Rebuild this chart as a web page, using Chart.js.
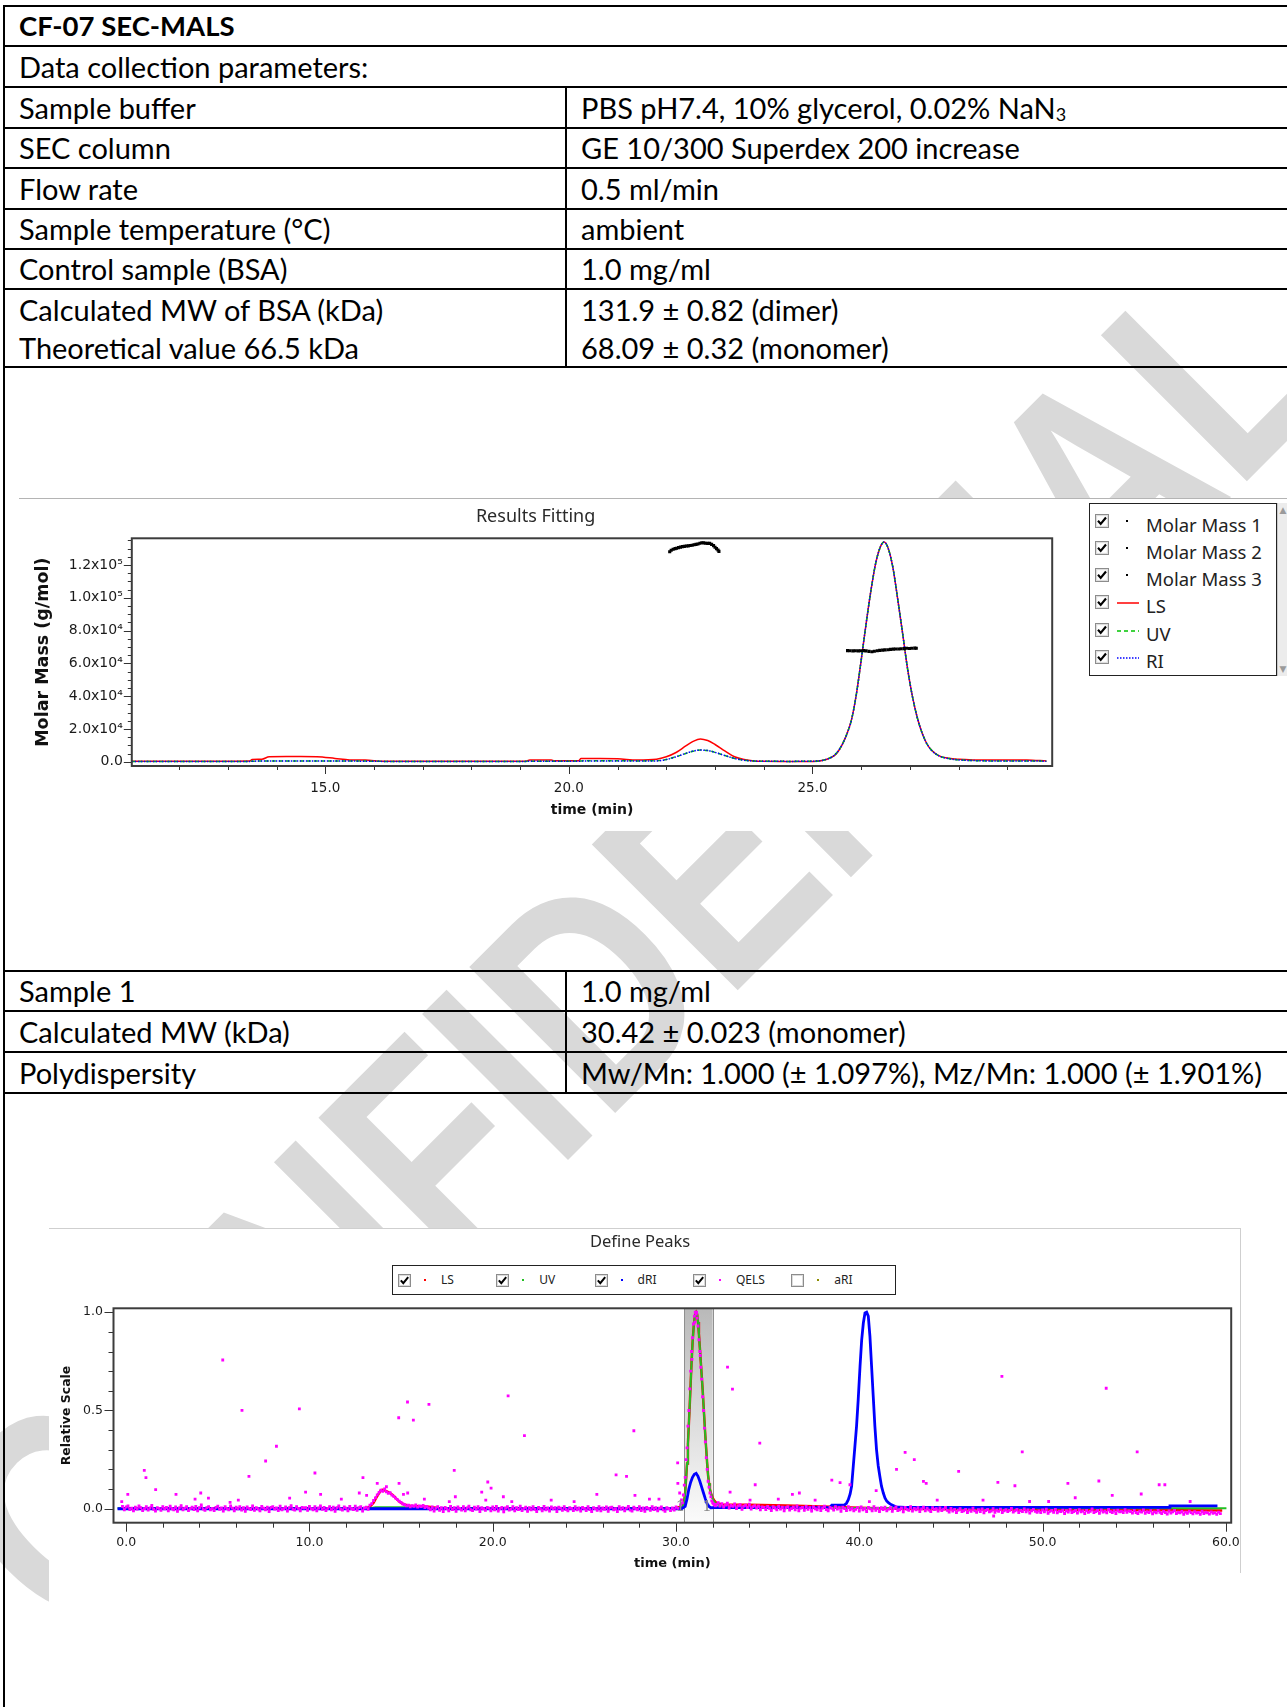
<!DOCTYPE html>
<html lang="en">
<head>
<meta charset="utf-8">
<title>CF-07 SEC-MALS</title>
<script src="https://cdn.jsdelivr.net/npm/chart.js@4.4.1/dist/chart.umd.min.js"></script>
<style>
  html, body { margin: 0; padding: 0; background: #fff; }
  #page { position: relative; width: 1287px; height: 1707px; overflow: hidden; background: #fff; }
  #watermark {
    position: absolute; left: 634px; top: 947px;
    transform: translate(-50%, -50%) rotate(-45deg) scaleX(0.8);
    font: bold 300px 'Liberation Sans', Arial, sans-serif;
    color: #d9d9d9; white-space: nowrap; line-height: 1; z-index: 0;
  }
  .rule { position: absolute; background: #000; z-index: 1; }
  .cell {
    position: absolute; height: 40px;
    font-family: Lato, 'Noto Sans', sans-serif; font-size: 29px; line-height: 40px; color: #000;
    white-space: nowrap; z-index: 1;
  }
  .cell.bold { font-weight: bold; font-size: 27.5px; }
  .cell sub { font-size: 0.62em; vertical-align: -0.1em; line-height: 0; }
  .chartbox { position: absolute; background: #fff; z-index: 2; }
  .chartbox canvas { display: block; }
  #fitBox { left: 19px; top: 498px; width: 1268px; height: 332px; border-top: 1px solid #b4b4b4; }
  #peakBox { left: 49px; top: 1228px; width: 1191px; height: 344px; border-top: 1px solid #cfcfcf; border-right: 1px solid #cfcfcf; }
  #peakMargin { left: 49px; top: 1573px; width: 1192px; height: 60px; }
  #fitLegend {
    position: absolute; left: 1089px; top: 503px; width: 186px; height: 171px;
    border: 1px solid #222; background: #fff; z-index: 3;
  }
  #fitScroll {
    position: absolute; left: 1277px; top: 503px; width: 10px; height: 173px;
    background: #ececec; border-left: 1px solid #c8c8c8; z-index: 3;
    font: 9px 'DejaVu Sans', sans-serif; color: #9a9a9a; text-align: center;
  }
  #fitScroll .up { position: absolute; top: 2px; left: 0; width: 10px; }
  #fitScroll .down { position: absolute; bottom: 2px; left: 0; width: 10px; }
  .lg1row { position: absolute; left: 0; width: 100%; height: 27px; }
  .lg1row .cb { position: absolute; left: 5px; top: 3px; width: 14px; height: 14px; }
  .lg1row .dot { position: absolute; left: 36px; top: 9px; width: 2px; height: 2px; }
  .lg1row .mark { position: absolute; left: 27px; top: 9px; }
  .lg1row .txt { position: absolute; left: 56px; top: 0; font: 18.5px 'Noto Sans', sans-serif; line-height: 27px; color: #222; white-space: nowrap; }
  #peakLegend {
    position: absolute; left: 392px; top: 1265px; width: 502px; height: 28px;
    border: 1px solid #222; background: #fff; z-index: 3;
  }
  .lg2item { position: absolute; top: 0; height: 28px; }
  .lg2item .cb { position: absolute; left: 0; top: 7px; width: 13px; height: 13px; }
  .lg2item .dot { position: absolute; left: 26px; top: 13px; width: 2px; height: 2px; }
  .lg2item .txt { position: absolute; left: 43px; top: 0; font: 12px 'Noto Sans', sans-serif; line-height: 28px; color: #222; white-space: nowrap; }
</style>
</head>
<body>
<div id="page">
  <div id="watermark">CONFIDENTIAL</div>
  <div id="table"></div>
  <div id="fitBox" class="chartbox"><canvas id="fitChart" width="1268" height="331"></canvas></div>
  <div id="fitLegend"></div>
  <div id="fitScroll"><div class="up">&#9650;</div><div class="down">&#9660;</div></div>
  <div id="peakBox" class="chartbox"><canvas id="peakChart" width="1191" height="344"></canvas></div>
  <div id="peakMargin" class="chartbox"></div>
  <div id="peakLegend"></div>
</div>
<script>
// ---------------- report table text ----------------
const reportTitle = 'CF-07 SEC-MALS';
const parameterHeading = 'Data collection parameters:';
const parameterNames = ['Sample buffer', 'SEC column', 'Flow rate', 'Sample temperature (°C)',
  'Control sample (BSA)', 'Calculated MW of BSA (kDa)', 'Theoretical value 66.5 kDa'];
const parameterValues = ['PBS pH7.4, 10% glycerol, 0.02% NaN<sub>3</sub>', 'GE 10/300 Superdex 200 increase',
  '0.5 ml/min', 'ambient', '1.0 mg/ml', '131.9 ± 0.82 (dimer)', '68.09 ± 0.32 (monomer)'];
const sampleNames = ['Sample 1', 'Calculated MW (kDa)', 'Polydispersity'];
const sampleValues = ['1.0 mg/ml', '30.42 ± 0.023 (monomer)',
  'Mw/Mn: 1.000 (± 1.097%), Mz/Mn: 1.000 (± 1.901%)'];

// ---------------- axis ticks ----------------
const fitTimeTicks = [15, 20, 25];
const massTicks = [0, 20000, 40000, 60000, 80000, 100000, 120000];
const peakTimeTicks = [0, 10, 20, 30, 40, 50, 60];
const relativeTicks = [0, 0.5, 1.0];

// ---------------- Results Fitting: detector traces (time in min) ----------------
const fitTime = [11.03, 11.5, 12.0, 12.5, 13.0, 13.45, 13.5, 13.7, 13.85, 14.2,
  14.5, 14.83, 15.2, 15.5, 15.82, 16.2, 17.0, 18.0, 19.1, 19.2,
  19.64, 19.7, 20.2, 20.25, 20.64, 21.0, 21.4, 21.8, 22.0, 22.2,
  22.4, 22.55, 22.7, 22.85, 23.0, 23.2, 23.4, 23.6, 23.8, 24.0,
  24.5, 25.0, 25.2, 25.4, 25.5, 25.6, 25.7, 25.8, 25.9, 26.0,
  26.1, 26.2, 26.3, 26.4, 26.47, 26.55, 26.65, 26.75, 26.85, 26.95,
  27.05, 27.15, 27.25, 27.35, 27.45, 27.6, 27.8, 28.0, 28.3, 28.6,
  29.0, 29.4, 29.8];
const fitLS = [300, 300, 300, 300, 300, 400, 1400, 1500, 3000, 3100,
  3100, 3000, 2000, 1100, 1000, 300, 300, 300, 300, 1000,
  1000, 600, 600, 1900, 1900, 1800, 1000, 1500, 3000, 5600,
  9600, 12400, 13900, 12900, 10500, 6600, 3000, 1300, 500, 300,
  200, 200, 700, 2800, 5200, 9800, 16500, 25500, 41000, 62000,
  84000, 104500, 121500, 131500, 134000, 130500, 118500, 99000, 78300, 57000,
  40000, 27000, 17500, 10800, 6800, 3600, 2100, 1500, 1100, 1000,
  1000, 1100, 400];
const fitUV = [200, 200, 200, 200, 200, 200, 300, 400, 500, 500,
  500, 500, 500, 500, 400, 200, 200, 200, 200, 300,
  300, 300, 400, 500, 600, 600, 500, 600, 1400, 3000,
  5000, 6400, 7100, 6800, 5700, 3800, 2000, 900, 400, 300,
  200, 300, 800, 3000, 5500, 10000, 16500, 25500, 41000, 62000,
  84000, 104500, 121500, 131500, 134000, 130500, 118500, 99000, 78300, 57000,
  40000, 27000, 17500, 10800, 6800, 3500, 1900, 1100, 700, 500,
  500, 500, 300];
const fitRI = [200, 200, 200, 200, 200, 200, 300, 400, 400, 400,
  400, 400, 400, 400, 300, 200, 200, 200, 200, 300,
  300, 300, 300, 400, 500, 500, 400, 500, 1300, 3000,
  5100, 6500, 7100, 6800, 5700, 3800, 2000, 900, 400, 300,
  200, 300, 800, 2900, 5400, 9900, 16400, 25400, 41000, 62000,
  84000, 104500, 121500, 131500, 134000, 130500, 118500, 99000, 78300, 57000,
  40000, 27000, 17500, 10800, 6800, 3500, 1900, 1100, 700, 500,
  500, 500, 300];

// molar mass slices (g/mol)
const mm1Time = [];
const mm1Mass = [];
const mm2Time = [22.07, 22.1, 22.14, 22.18, 22.21, 22.25, 22.29, 22.33, 22.37, 22.41,
  22.45, 22.49, 22.53, 22.57, 22.61, 22.65, 22.69, 22.73, 22.77, 22.81,
  22.85, 22.89, 22.93, 22.97, 23.0, 23.03, 23.06, 23.08];
const mm2Mass = [128100, 129000, 129600, 130000, 130200, 130600, 130900, 131200, 131400, 131600,
  131700, 131900, 132100, 132400, 132600, 132800, 133300, 133600, 133500, 133300,
  133200, 133200, 132600, 131800, 130800, 130000, 129200, 128300];
const mm3Time = [25.72, 25.77, 25.83, 25.88, 25.94, 25.99, 26.05, 26.1, 26.16, 26.22,
  26.27, 26.33, 26.38, 26.44, 26.49, 26.55, 26.6, 26.66, 26.71, 26.77,
  26.82, 26.88, 26.93, 26.99, 27.04, 27.1, 27.13];
const mm3Mass = [67800, 67700, 67600, 67700, 67600, 67700, 67800, 67600, 67300, 67100,
  67400, 67700, 67900, 68100, 68200, 68300, 68500, 68700, 68800, 68800,
  68900, 69000, 69200, 69100, 69200, 69300, 69200];

// ---------------- Define Peaks: relative scale traces ----------------
const lsTime = [-0.2, 13.0, 13.3, 13.5, 13.7, 13.9, 14.0, 14.2, 14.4, 14.6,
  14.8, 15.0, 15.2, 15.5, 16.0, 16.5, 17.0, 28.0, 30.0, 30.3,
  30.4, 30.45, 30.5, 30.55, 30.6, 30.65, 30.7, 30.75, 30.8, 30.85,
  30.9, 30.95, 31.0, 31.05, 31.1, 31.15, 31.2, 31.25, 31.3, 31.35,
  31.4, 31.45, 31.5, 31.55, 31.6, 31.65, 31.7, 31.75, 31.8, 31.85,
  31.9, 32.0, 32.1, 32.2, 32.5, 34.0, 36.0, 38.0, 40.0, 42.0,
  45.0, 50.0, 55.0, 59.8];
const lsValue = [0.0, 0.0, 0.01, 0.03, 0.065, 0.095, 0.097, 0.09, 0.08, 0.065,
  0.045, 0.03, 0.02, 0.015, 0.013, 0.01, 0.004, 0.002, 0.004, 0.012,
  0.025, 0.045, 0.085, 0.15, 0.23, 0.33, 0.43, 0.53, 0.64, 0.75,
  0.84, 0.91, 0.96, 0.99, 1.0, 0.99, 0.95, 0.89, 0.82, 0.75,
  0.68, 0.61, 0.53, 0.45, 0.37, 0.30, 0.23, 0.17, 0.13, 0.10,
  0.08, 0.055, 0.04, 0.03, 0.022, 0.02, 0.017, 0.012, 0.005, 0.0,
  -0.003, -0.005, -0.007, -0.009];

const uvTime = [-0.47, 13.3, 13.6, 15.3, 15.6, 30.0, 30.3, 30.4, 30.45, 30.5,
  30.55, 30.6, 30.65, 30.7, 30.75, 30.8, 30.85, 30.9, 30.95, 31.0,
  31.05, 31.1, 31.15, 31.2, 31.25, 31.3, 31.35, 31.4, 31.45, 31.5,
  31.55, 31.6, 31.65, 31.7, 31.75, 31.8, 31.85, 31.9, 32.0, 32.1,
  32.2, 32.5, 33.0, 38.5, 39.5, 45.0, 57.0, 60.03];
const uvValue = [0.003, 0.003, 0.008, 0.008, 0.003, 0.003, 0.008, 0.02, 0.04, 0.08,
  0.15, 0.23, 0.33, 0.43, 0.53, 0.64, 0.75, 0.84, 0.91, 0.96,
  0.99, 1.0, 0.99, 0.95, 0.89, 0.82, 0.75, 0.68, 0.61, 0.53,
  0.45, 0.37, 0.30, 0.23, 0.17, 0.13, 0.10, 0.08, 0.05, 0.035,
  0.025, 0.012, 0.005, 0.004, 0.004, 0.003, 0.003, 0.003];

const driTime = [-0.47, 30.3, 30.5, 30.6, 30.7, 30.8, 30.9, 31.0, 31.1, 31.2,
  31.3, 31.4, 31.5, 31.6, 31.7, 31.8, 31.9, 32.1, 38.4, 38.5,
  39.2, 39.3, 39.4, 39.5, 39.58, 39.67, 39.76, 39.85, 39.94, 40.04,
  40.13, 40.22, 40.31, 40.4, 40.49, 40.58, 40.67, 40.76, 40.85, 40.94,
  41.03, 41.12, 41.21, 41.31, 41.4, 41.49, 41.6, 41.76, 42.0, 42.5,
  56.9, 56.95, 59.54];
const driValue = [0.0, 0.0, 0.012, 0.05, 0.1, 0.135, 0.16, 0.175, 0.18, 0.165,
  0.14, 0.11, 0.08, 0.05, 0.025, 0.012, 0.005, 0.006, 0.007, 0.018,
  0.02, 0.028, 0.046, 0.075, 0.114, 0.216, 0.317, 0.42, 0.555, 0.725,
  0.86, 0.945, 0.996, 1.0, 0.98, 0.877, 0.725, 0.572, 0.42, 0.30,
  0.22, 0.165, 0.115, 0.08, 0.055, 0.04, 0.03, 0.02, 0.01, 0.007,
  0.007, 0.015, 0.015];

const ariTime = [];
const ariValue = [];

// QELS: regular readings every 0.1 min starting at -0.2 min (gap while the peak is defined)
const qelsStart = -0.2;
const qelsStep = 0.1;
const qelsBaseline = [
  .012,-.006,.009,.015,-.004,.003,-.011,.008,-.002,.014, .005,-.009,.001,.010,-.007,.004,.017,-.003,-.012,.006,
  .002,-.008,.011,-.001,.007,-.010,.013,.000,-.005,.009, -.013,.004,.016,-.006,.003,.010,-.009,.001,.008,-.004,
  .012,-.011,.005,.019,-.002,-.008,.006,.011,-.005,.002,
  -.009,.007,.013,-.003,.004,-.012,.010,.001,-.006,.015, .003,-.010,.008,-.001,.011,-.007,.005,-.013,.009,.002,
  -.004,.014,-.008,.006,.000,-.011,.012,.003,-.005,.008, -.014,.007,.010,-.002,.004,-.009,.013,-.006,.001,.009,
  -.012,.005,.016,-.003,-.007,.011,.002,-.010,.007,.004,
  .006,-.008,.012,.001,-.005,.010,-.011,.004,.014,-.003, .007,-.009,.002,.011,-.006,.008,-.013,.005,.015,-.002,
  -.007,.009,.003,-.010,.012,.000,-.004,.013,-.008,.006, .010,-.012,.004,.008,-.003,.018,.026,.042,.055,.071,
  .083,.094,.088,.101,.086,.079,.082,.069,.063,.054,
  .046,.038,.032,.024,.021,.015,.018,.010,.016,.012, .019,.008,.014,.011,.017,.006,.012,.004,-.006,.009,
  -.012,.003,.011,-.008,.005,-.015,.007,.001,-.010,.012, -.004,.006,-.013,.009,.002,-.007,.010,-.011,.004,.013,
  -.005,-.009,.008,-.002,.011,-.014,.005,.000,-.008,.007,
  .003,-.010,.009,-.005,.012,-.012,.001,.007,-.016,.004, .010,-.007,-.002,.011,-.011,.006,-.004,.013,-.009,.002,
  .008,-.013,.005,-.006,.010,-.003,-.014,.007,.001,-.010, .012,-.005,.004,-.012,.009,-.001,.006,-.015,.008,.003,
  -.008,.011,-.004,-.011,.006,.002,-.009,.010,-.006,.004,
  -.012,.007,.002,-.009,.010,-.004,-.014,.006,.001,-.008, .011,-.011,.004,-.003,.009,-.013,.005,.008,-.006,.000,
  -.015,.010,-.002,.006,-.010,.003,.012,-.007,-.012,.008, .001,-.005,.011,-.009,.004,-.013,.007,.002,-.008,.010,
  -.004,.006,-.011,.003,.009,-.006,-.013,.005,.001,-.009,
  .004,-.007,.009,.002,null,null,null,null,null,null, null,null,null,null,null,null,null,null,null,null,
  null,null,null,null,.022,.031,.014,.026,.009,.019, .028,.004,.017,.012,.024,.001,.015,.021,-.003,.013,
  .018,.006,.023,-.002,.011,.016,.003,.014,-.005,.009,
  .007,-.004,.012,.002,-.009,.010,.004,-.006,.013,-.002, .008,-.011,.005,.011,-.007,.001,.009,-.005,.014,-.010,
  .003,.007,-.008,.012,-.003,.006,-.012,.010,.000,-.006, .009,-.009,.004,.013,-.004,-.011,.007,.002,-.007,.011,
  -.002,.005,-.013,.008,.001,-.009,.010,-.005,.003,-.010,
  -.003,.006,-.012,.009,-.006,.002,-.014,.007,-.001,-.010, .010,-.008,.003,-.015,.005,-.004,.008,-.011,-.002,.006,
  -.013,.001,.009,-.009,-.005,.004,-.016,.007,-.003,-.008, .010,-.012,.002,-.006,.005,-.014,-.001,.008,-.010,.003,
  -.007,-.015,.006,-.004,.001,-.012,.004,-.009,-.002,.007,
  -.008,-.017,.002,-.012,-.004,-.020,-.007,.001,-.015,-.010, -.003,-.019,-.006,-.013,.003,-.011,-.018,-.005,-.014,-.001,
  -.021,-.009,-.004,-.016,-.012,.000,-.018,-.007,-.013,-.002, -.020,-.010,-.005,-.015,-.008,.002,-.017,-.011,-.004,-.019,
  -.009,-.014,-.001,-.016,-.006,-.022,-.010,-.003,-.013,-.018,
  -.011,-.020,-.006,-.016,-.002,-.023,-.013,-.008,-.018,-.004, -.021,-.012,-.015,-.007,-.024,-.010,-.017,-.003,-.019,-.014,
  -.009,-.022,-.005,-.016,-.011,-.025,-.008,-.018,-.013,-.001, -.020,-.015,-.009,-.023,-.006,-.017,-.012,-.021,-.004,-.014,
  -.019,-.010,-.024,-.007,-.016,-.013,-.020,-.005,-.018,-.011,
  -.014,-.022,-.009,-.019,-.025,-.012,-.017,-.006,-.023,-.015, -.020,-.010,-.026,-.016,-.021,-.008,-.018,-.024,-.013,-.019,
  -.027,-.011,-.022,-.016,-.009,-.025,-.018,-.021,-.014,-.028, -.017,-.023,-.012,-.020,-.026,-.015,-.022,-.019,-.029,-.013,
  -.024,-.018,-.021,-.027,-.016,-.023,-.020,-.028,-.017,-.025
];
const qelsPeakTime = [30.25, 30.3, 30.35, 30.4, 30.45, 30.5, 30.55, 30.6, 30.65, 30.7,
  30.75, 30.8, 30.85, 30.87, 30.9, 30.95, 31.0, 31.03, 31.05, 31.1,
  31.12, 31.15, 31.2, 31.25, 31.3, 31.32, 31.35, 31.4, 31.45, 31.5,
  31.55, 31.6, 31.65, 31.7, 31.75, 31.8, 31.85, 31.9, 31.95, 32.0,
  32.05, 32.1, 32.15];
const qelsPeakValue = [0.02, 0.045, 0.03, 0.07, 0.12, 0.16, 0.25, 0.31, 0.42, 0.5,
  0.61, 0.7, 0.8, 0.76, 0.87, 0.94, 0.98, 0.95, 1.0, 0.99,
  1.0, 0.97, 0.93, 0.86, 0.8, 0.78, 0.72, 0.66, 0.57, 0.5,
  0.41, 0.34, 0.26, 0.2, 0.14, 0.11, 0.08, 0.06, 0.04, 0.03,
  0.025, 0.02, 0.015];
const qelsSpikeTime = [-0.24, 0.09, 0.99, 1.08, 1.61, 2.72, 3.76, 4.07, 4.49, 5.27,
  5.67, 6.12, 6.32, 6.70, 7.61, 8.20, 8.92, 9.45, 9.79, 10.30,
  10.61, 11.74, 12.72, 12.92, 13.12, 13.70, 14.20, 14.87, 14.89, 15.13,
  15.35, 15.36, 15.67, 16.27, 16.52, 17.63, 17.90, 17.96, 19.40, 19.62,
  19.73, 19.91, 20.58, 20.84, 21.04, 21.73, 23.19, 24.44, 25.68, 26.73,
  27.30, 27.70, 27.76, 28.55, 29.07, 30.09, 30.10, 30.20, 32.81, 32.95,
  33.08, 34.04, 34.32, 34.57, 35.58, 36.35, 36.73, 37.59, 38.50, 38.95,
  39.49, 40.55, 40.92, 42.03, 42.50, 43.00, 43.50, 43.65, 44.25, 45.42,
  46.75, 47.33, 47.56, 47.78, 48.49, 48.89, 49.29, 50.33, 51.38, 51.78,
  53.07, 53.47, 53.80, 55.16, 55.38, 56.36, 56.67, 58.05];
const qelsSpikeValue = [.036, .073, .195, .158, .097, .073, .049, .080, .054, .757,
  .032, .044, .501, .165, .243, .318, .054, .508, .085, .182,
  .073, .049, .080, .158, .068, .129, .112, .463, .129, .073,
  .543, .080, .451, .049, .531, .036, .195, .061, .085, .044,
  .136, .105, .061, .574, .036, .372, .044, .036, .073, .172,
  .165, .397, .068, .049, .049, .233, .129, .080, .721, .085,
  .609, .044, .122, .334, .049, .073, .080, .044, .146, .133,
  .122, .036, .092, .200, .287, .250, .139, .129, .044, .190,
  .044, -.037, .134, .674, .117, .289, .037, .037, .129, .056,
  .141, .613, .068, .289, .075, .122, .122, .037];

// defined peak 1 (min)
const peakRange = [30.45, 32.0];

// ---------------- table layout ----------------
(function buildTable() {
  const t = document.getElementById('table');
  const add = (cls, css, html) => {
    const d = document.createElement('div');
    d.className = cls; Object.assign(d.style, css);
    if (html !== undefined) d.innerHTML = html;
    t.appendChild(d); return d;
  };
  const hRules = [6, 46, 87, 128, 168, 209, 249, 289, 367, 971, 1011, 1052, 1093];
  hRules.forEach(y => add('rule', { left: '3px', top: (y - 1) + 'px', width: '1284px', height: '2px' }));
  add('rule', { left: '3px', top: '5px', width: '2px', height: '1702px' });
  add('rule', { left: '565px', top: '87px', width: '2px', height: '281px' });
  add('rule', { left: '565px', top: '971px', width: '2px', height: '123px' });

  const leftX = 19, rightX = 581;
  const put = (x, cy, html, bold) => add('cell' + (bold ? ' bold' : ''), { left: x + 'px', top: (cy - 20) + 'px' }, html);
  put(leftX, 26, reportTitle, true);
  put(leftX, 66.5, parameterHeading);
  const paramCenters = [107.5, 148, 188.5, 229, 269, 310, 348];
  parameterNames.forEach((n, i) => { put(leftX, paramCenters[i], n); put(rightX, paramCenters[i], parameterValues[i]); });
  const sampleCenters = [991, 1031.5, 1072.5];
  sampleNames.forEach((n, i) => { put(leftX, sampleCenters[i], n); put(rightX, sampleCenters[i], sampleValues[i]); });
})();

// ---------------- shared chart helpers ----------------
const xy = (xs, ys) => xs.map((x, i) => ({ x, y: ys[i] }));

function checkboxSvg(checked, size) {
  return `<svg width="${size}" height="${size}" viewBox="0 0 13 13">` +
    `<rect x="0.5" y="0.5" width="12" height="12" fill="#fff" stroke="#8c8c8c"/>` +
    `<rect x="1.5" y="1.5" width="10" height="10" fill="none" stroke="#dcdcdc"/>` +
    (checked ? `<path d="M2.8 6.3 L5.3 9.2 L10.2 3.2" fill="none" stroke="#000" stroke-width="2"/>` : '') +
    `</svg>`;
}

// frame around the plot with outward minor/major tick marks
const axisFrame = {
  id: 'axisFrame',
  afterDraw(chart, args, o) {
    const { ctx, chartArea: a, scales: { x, y } } = chart;
    ctx.save();
    ctx.strokeStyle = o.tickColor; ctx.lineWidth = 1;
    ctx.beginPath();
    const xr = Math.round(o.xMajor / o.xMinor);
    for (let k = Math.ceil(x.min / o.xMinor - 1e-9); k * o.xMinor <= x.max + 1e-9; k++) {
      const px = Math.round(x.getPixelForValue(k * o.xMinor)) + 0.5;
      const len = (Math.abs(k) % xr === 0) ? o.majorLen : o.minorLen;
      ctx.moveTo(px, a.bottom); ctx.lineTo(px, a.bottom + len);
    }
    const yr = Math.round(o.yMajor / o.yMinor);
    for (let k = Math.ceil(y.min / o.yMinor - 1e-9); k * o.yMinor <= y.max + 1e-9; k++) {
      const py = Math.round(y.getPixelForValue(k * o.yMinor)) + 0.5;
      const len = (Math.abs(k) % yr === 0) ? o.majorLen : o.minorLen;
      ctx.moveTo(a.left, py); ctx.lineTo(a.left - len, py);
    }
    ctx.stroke();
    ctx.lineWidth = o.frameWidth; ctx.strokeStyle = o.frameColor;
    ctx.strokeRect(a.left, a.top, a.right - a.left, a.bottom - a.top);
    ctx.restore();
  }
};

// shaded band of the defined peak
const peakBand = {
  id: 'peakBand',
  beforeDatasetsDraw(chart, args, o) {
    const { ctx, chartArea: a, scales: { x } } = chart;
    const x0 = x.getPixelForValue(o.range[0]), x1 = x.getPixelForValue(o.range[1]);
    const g = ctx.createLinearGradient(0, a.top, 0, a.bottom);
    g.addColorStop(0, '#b9b9b9'); g.addColorStop(0.55, '#dedede'); g.addColorStop(1, '#fbfbfb');
    ctx.save();
    ctx.fillStyle = g; ctx.fillRect(x0, a.top, x1 - x0, a.bottom - a.top);
    ctx.strokeStyle = '#8f8f8f'; ctx.lineWidth = 1;
    ctx.beginPath();
    ctx.moveTo(Math.round(x0) + 0.5, a.top); ctx.lineTo(Math.round(x0) + 0.5, a.bottom);
    ctx.moveTo(Math.round(x1) + 0.5, a.top); ctx.lineTo(Math.round(x1) + 0.5, a.bottom);
    ctx.stroke();
    ctx.restore();
  },
  afterDatasetsDraw(chart, args, o) {
    const { ctx, scales: { x, y } } = chart;
    ctx.save();
    ctx.fillStyle = '#8a8a8a'; ctx.font = '15px "DejaVu Serif", serif';
    ctx.textAlign = 'right'; ctx.textBaseline = 'alphabetic';
    const yb = y.getPixelForValue(0) + 2;
    ctx.fillText(o.label, x.getPixelForValue(o.range[0]) + 1, yb);
    ctx.fillText(o.label, x.getPixelForValue(o.range[1]) - 1, yb);
    ctx.restore();
  }
};

function pinScale(size, horizontal) {
  return function (scale) {
    if (horizontal) scale.height = size; else scale.width = size;
    scale.paddingLeft = 0; scale.paddingRight = 0; scale.paddingTop = 0; scale.paddingBottom = 0;
  };
}
const fixedTicks = values => scale => { scale.ticks = values.map(v => ({ value: v })); };

const tickFont = { family: '"DejaVu Sans", sans-serif' };
const superDigits = { '0': '⁰', '1': '¹', '2': '²', '3': '³', '4': '⁴', '5': '⁵', '6': '⁶', '7': '⁷', '8': '⁸', '9': '⁹' };
function sciLabel(v) {
  if (Math.abs(v) < 1e-9) return '0.0';
  const e = Math.floor(Math.log10(Math.abs(v)) + 1e-9);
  const m = v / Math.pow(10, e);
  return m.toFixed(1) + 'x10' + String(e).split('').map(c => superDigits[c]).join('');
}

// ---------------- Results Fitting chart ----------------
const fitDatasets = [
  { label: 'Molar Mass 1', data: xy(mm1Time, mm1Mass), showLine: false, pointStyle: 'rect', pointRadius: 2.2,
    backgroundColor: '#000', borderColor: '#000', borderWidth: 0, order: 0, legendMarker: 'dot' },
  { label: 'Molar Mass 2', data: xy(mm2Time, mm2Mass), showLine: false, pointStyle: 'rect', pointRadius: 2.2,
    backgroundColor: '#000', borderColor: '#000', borderWidth: 0, order: 0, legendMarker: 'dot' },
  { label: 'Molar Mass 3', data: xy(mm3Time, mm3Mass), showLine: false, pointStyle: 'rect', pointRadius: 2.2,
    backgroundColor: '#000', borderColor: '#000', borderWidth: 0, order: 0, legendMarker: 'dot' },
  { label: 'LS', data: xy(fitTime, fitLS), showLine: true, pointRadius: 0, borderColor: '#ff0000',
    borderWidth: 1.5, cubicInterpolationMode: 'monotone', order: 3, legendMarker: 'line' },
  { label: 'UV', data: xy(fitTime, fitUV), showLine: true, pointRadius: 0, borderColor: '#00c400',
    borderWidth: 1.5, borderDash: [4, 3], cubicInterpolationMode: 'monotone', order: 2, legendMarker: 'line' },
  { label: 'RI', data: xy(fitTime, fitRI), showLine: true, pointRadius: 0, borderColor: '#0000ff',
    borderWidth: 1.5, borderDash: [1.5, 1.5], cubicInterpolationMode: 'monotone', order: 1, legendMarker: 'line' }
];

new Chart(document.getElementById('fitChart'), {
  type: 'scatter',
  data: { datasets: fitDatasets },
  options: {
    responsive: false, animation: false, devicePixelRatio: 1,
    layout: { padding: { left: 0, top: 0, right: 234.8, bottom: 0 } },
    plugins: {
      legend: { display: false }, tooltip: { enabled: false },
      title: { display: true, text: 'Results Fitting', color: '#2a2a2a',
        font: { family: '"Noto Sans", sans-serif', size: 18, weight: 'normal' }, padding: { top: 7, bottom: 10.7 } },
      axisFrame: { tickColor: '#333', frameColor: '#3c3c3c', frameWidth: 2, xMinor: 1, xMajor: 5,
        yMinor: 5000, yMajor: 20000, majorLen: 8, minorLen: 4 }
    },
    scales: {
      x: { type: 'linear', min: 11.03, max: 29.92, afterFit: pinScale(64, true), afterBuildTicks: fixedTicks(fitTimeTicks),
        grid: { display: false, drawTicks: false }, border: { display: false },
        ticks: { padding: 14, color: '#1a1a1a', font: { ...tickFont, size: 13.5 },
          callback: v => v.toFixed(1) },
        title: { display: true, text: 'time (min)', color: '#111',
          font: { ...tickFont, size: 14, weight: 'bold' }, padding: { top: 0, bottom: 11 } } },
      y: { type: 'linear', min: -2620, max: 136300, afterFit: pinScale(112.8, false), afterBuildTicks: fixedTicks(massTicks),
        grid: { display: false, drawTicks: false }, border: { display: false },
        ticks: { padding: 9, color: '#1a1a1a', font: { ...tickFont, size: 14 },
          callback: v => sciLabel(v) },
        title: { display: true, text: 'Molar Mass (g/mol)', color: '#111',
          font: { ...tickFont, size: 17.5, weight: 'bold' }, padding: { top: 14, bottom: 0 } } }
    }
  },
  plugins: [axisFrame]
});

// legend panel beside the fitting plot
(function buildFitLegend() {
  const box = document.getElementById('fitLegend');
  fitDatasets.forEach((ds, i) => {
    const row = document.createElement('div');
    row.className = 'lg1row';
    row.style.top = (6.7 + i * 27.2) + 'px';
    let marker;
    if (ds.legendMarker === 'dot') {
      marker = `<span class="dot" style="background:${ds.borderColor}"></span>`;
    } else {
      const dash = ds.borderDash ? ` stroke-dasharray="${ds.borderDash.join(',')}"` : '';
      marker = `<svg class="mark" width="22" height="4"><line x1="0" y1="2" x2="22" y2="2" stroke="${ds.borderColor}" stroke-width="1.5"${dash}/></svg>`;
    }
    row.innerHTML = `<span class="cb">${checkboxSvg(true, 14)}</span>${marker}<span class="txt">${ds.label}</span>`;
    box.appendChild(row);
  });
})();

// ---------------- Define Peaks chart ----------------
const qelsColor = '#ff00ff';
const peakDatasets = [
  { label: 'LS', data: xy(lsTime, lsValue), showLine: true, pointRadius: 0, borderColor: '#ff0000',
    backgroundColor: '#ff0000', borderWidth: 2.5, order: 3, legend: true },
  { label: 'UV', data: xy(uvTime, uvValue), showLine: true, pointRadius: 0, borderColor: '#22c022',
    backgroundColor: '#22c022', borderWidth: 2, order: 2, legend: true },
  { label: 'dRI', data: xy(driTime, driValue), showLine: true, pointRadius: 0, borderColor: '#0000ff',
    backgroundColor: '#0000ff', borderWidth: 2.8, order: 1, legend: true },
  { label: 'QELS', data: qelsBaseline.map((v, i) => ({ x: qelsStart + i * qelsStep, y: v })), showLine: true,
    pointStyle: 'rect', pointRadius: 2, borderColor: qelsColor, backgroundColor: qelsColor,
    pointBorderWidth: 0, borderWidth: 1.3, order: 0, legend: true },
  { label: 'QELS peak', data: xy(qelsPeakTime, qelsPeakValue), showLine: false, pointStyle: 'rect', pointRadius: 2,
    borderColor: qelsColor, backgroundColor: qelsColor, borderWidth: 0, order: 0, legend: false },
  { label: 'QELS spikes', data: xy(qelsSpikeTime, qelsSpikeValue), showLine: false, pointStyle: 'rect', pointRadius: 2,
    borderColor: qelsColor, backgroundColor: qelsColor, borderWidth: 0, order: 0, legend: false },
  { label: 'aRI', data: xy(ariTime, ariValue), showLine: true, pointRadius: 0, borderColor: '#8c8c00',
    backgroundColor: '#8c8c00', borderWidth: 2, order: 4, hidden: true, legend: true }
];

new Chart(document.getElementById('peakChart'), {
  type: 'scatter',
  data: { datasets: peakDatasets },
  options: {
    responsive: false, animation: false, devicePixelRatio: 1,
    layout: { padding: { left: 0, top: 0, right: 8.8, bottom: 0 } },
    plugins: {
      legend: { display: false }, tooltip: { enabled: false },
      title: { display: true, text: 'Define Peaks', color: '#2a2a2a',
        font: { family: '"Noto Sans", sans-serif', size: 16.5, weight: 'normal' }, padding: { top: 3.1, bottom: 56.4 } },
      peakBand: { range: peakRange, label: '1' },
      axisFrame: { tickColor: '#333', frameColor: '#3c3c3c', frameWidth: 2, xMinor: 2, xMajor: 10,
        yMinor: 0.1, yMajor: 0.5, majorLen: 9, minorLen: 5 }
    },
    scales: {
      x: { type: 'linear', min: -0.69, max: 60.29, afterFit: pinScale(50.3, true), afterBuildTicks: fixedTicks(peakTimeTicks),
        grid: { display: false, drawTicks: false }, border: { display: false },
        ticks: { padding: 13, color: '#1a1a1a', font: { ...tickFont, size: 12.5 },
          callback: v => v.toFixed(1) },
        title: { display: true, text: 'time (min)', color: '#111',
          font: { ...tickFont, size: 13, weight: 'bold' }, padding: { top: 0, bottom: 2 } } },
      y: { type: 'linear', min: -0.071, max: 1.02, afterFit: pinScale(64.5, false), afterBuildTicks: fixedTicks(relativeTicks),
        grid: { display: false, drawTicks: false }, border: { display: false },
        ticks: { padding: 10.5, color: '#1a1a1a', font: { ...tickFont, size: 12.5 },
          callback: v => v.toFixed(1) },
        title: { display: true, text: 'Relative Scale', color: '#111',
          font: { ...tickFont, size: 12.5, weight: 'bold' }, padding: { top: 10.5, bottom: 0 } } }
    }
  },
  plugins: [peakBand, axisFrame]
});

// legend strip above the peak plot
(function buildPeakLegend() {
  const box = document.getElementById('peakLegend');
  peakDatasets.filter(ds => ds.legend).forEach((ds, i) => {
    const item = document.createElement('div');
    item.className = 'lg2item';
    item.style.left = (5 + i * 98.3) + 'px';
    item.innerHTML = `<span class="cb">${checkboxSvg(!ds.hidden, 13)}</span>` +
      `<span class="dot" style="background:${ds.borderColor}"></span><span class="txt">${ds.label}</span>`;
    box.appendChild(item);
  });
})();
</script>
</body>
</html>
